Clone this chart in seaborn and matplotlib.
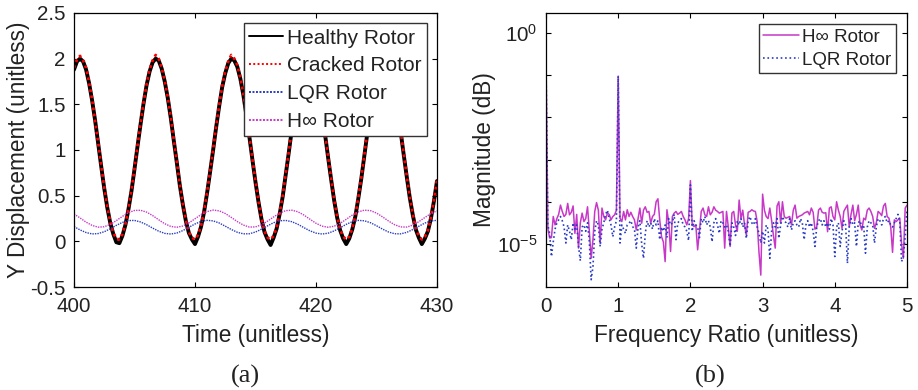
import numpy as np
import matplotlib
matplotlib.use("Agg")
import matplotlib.pyplot as plt
import matplotlib.ticker as ticker
import seaborn as sns

# ---- (a) time response ----
# fast rotor response sampled every 0.25 time units from 400 to 430
time_fine = np.linspace(400, 430, 121)
healthy = [
    1.88, 1.97, 2.00, 1.97, 1.88, 1.73, 1.54, 1.32, 1.07, 0.82,
    0.58, 0.37, 0.20, 0.08, -0.01, -0.02, 0.06, 0.18, 0.35, 0.55,
    0.79, 1.04, 1.28, 1.51, 1.71, 1.86, 1.96, 2.00, 1.98, 1.89,
    1.75, 1.57, 1.35, 1.10, 0.86, 0.61, 0.40, 0.22, 0.09, 0.02,
    -0.03, 0.05, 0.16, 0.32, 0.53, 0.76, 1.00, 1.25, 1.48, 1.69,
    1.84, 1.95, 2.00, 1.98, 1.91, 1.78, 1.60, 1.38, 1.14, 0.89,
    0.65, 0.43, 0.24, 0.10, 0.02, -0.04, 0.04, 0.14, 0.30, 0.49,
    0.73, 0.97, 1.22, 1.45, 1.66, 1.83, 1.94, 2.00, 1.99, 1.92,
    1.80, 1.62, 1.41, 1.17, 0.92, 0.68, 0.45, 0.26, 0.12, 0.03,
    -0.03, 0.03, 0.13, 0.27, 0.47, 0.69, 0.94, 1.19, 1.43, 1.64,
    1.81, 1.93, 1.99, 1.99, 1.93, 1.82, 1.65, 1.44, 1.20, 0.95,
    0.71, 0.48, 0.29, 0.13, 0.04, -0.03, 0.03, 0.11, 0.25, 0.44,
    0.66,
]
cracked = [
    1.90, 1.99, 2.03, 1.98, 1.90, 1.74, 1.55, 1.31, 1.08, 0.83,
    0.59, 0.38, 0.21, 0.09, 0.03, 0.02, 0.08, 0.19, 0.36, 0.56,
    0.80, 1.05, 1.29, 1.52, 1.72, 1.88, 1.98, 2.04, 2.00, 1.90,
    1.76, 1.58, 1.36, 1.11, 0.87, 0.62, 0.41, 0.23, 0.10, 0.04,
    0.02, 0.07, 0.17, 0.33, 0.54, 0.77, 1.01, 1.26, 1.49, 1.70,
    1.86, 1.97, 2.04, 2.00, 1.93, 1.79, 1.61, 1.39, 1.15, 0.90,
    0.66, 0.44, 0.25, 0.11, 0.04, 0.02, 0.06, 0.15, 0.31, 0.50,
    0.74, 0.98, 1.23, 1.46, 1.67, 1.84, 1.96, 2.03, 2.01, 1.93,
    1.81, 1.63, 1.42, 1.18, 0.93, 0.69, 0.46, 0.27, 0.13, 0.05,
    0.02, 0.05, 0.14, 0.28, 0.48, 0.70, 0.95, 1.20, 1.44, 1.65,
    1.82, 1.95, 2.02, 2.01, 1.94, 1.83, 1.66, 1.45, 1.21, 0.96,
    0.72, 0.49, 0.30, 0.14, 0.06, 0.02, 0.05, 0.12, 0.26, 0.45,
    0.67,
]

# controlled rotors sampled every 0.5 time units
time_coarse = np.linspace(400, 430, 61)
lqr_resp = [
    0.162, 0.125, 0.096, 0.081, 0.085, 0.105, 0.138, 0.175, 0.207, 0.227,
    0.229, 0.212, 0.182, 0.145, 0.111, 0.087, 0.080, 0.091, 0.118, 0.154,
    0.190, 0.218, 0.230, 0.224, 0.201, 0.166, 0.130, 0.099, 0.082, 0.083,
    0.102, 0.133, 0.170, 0.204, 0.225, 0.229, 0.215, 0.187, 0.150, 0.115,
    0.090, 0.080, 0.089, 0.114, 0.149, 0.186, 0.215, 0.229, 0.225, 0.204,
    0.171, 0.134, 0.102, 0.083, 0.082, 0.098, 0.129, 0.165, 0.200, 0.223,
    0.230,
]
hinf_resp = [
    0.300, 0.256, 0.210, 0.174, 0.155, 0.160, 0.185, 0.227, 0.273, 0.314,
    0.338, 0.340, 0.320, 0.282, 0.236, 0.193, 0.163, 0.154, 0.168, 0.202,
    0.247, 0.292, 0.326, 0.342, 0.334, 0.305, 0.262, 0.216, 0.178, 0.156,
    0.158, 0.181, 0.221, 0.267, 0.309, 0.336, 0.341, 0.324, 0.288, 0.242,
    0.198, 0.166, 0.154, 0.165, 0.197, 0.241, 0.287, 0.323, 0.341, 0.336,
    0.310, 0.268, 0.222, 0.182, 0.158, 0.156, 0.177, 0.215, 0.261, 0.304,
    0.333,
]

# ---- (b) spectrum, frequency ratio 0..5 every 0.025, values as log10(magnitude) ----
freq_ratio = np.linspace(0, 5, 201)
hinf_log_mag = [
    -0.64, -4.63, -4.86, -4.85, -4.35, -4.55, -4.40, -4.30, -4.08, -4.23,
    -4.35, -4.30, -4.04, -4.31, -4.25, -4.10, -4.75, -4.30, -5.10, -4.50,
    -4.27, -4.47, -4.40, -4.12, -4.70, -5.34, -4.90, -4.23, -4.02, -4.20,
    -4.98, -4.15, -4.35, -4.43, -4.27, -4.30, -4.43, -4.35, -4.31, -4.20,
    -1.02, -4.39, -4.47, -4.23, -4.43, -4.19, -4.35, -4.25, -4.35, -4.43,
    -4.67, -4.40, -4.15, -4.51, -4.20, -4.12, -4.25, -4.23, -4.51, -4.35,
    -4.30, -4.00, -3.93, -4.43, -4.83, -4.95, -5.42, -4.19, -4.50, -5.18,
    -4.35, -4.27, -4.23, -4.30, -4.27, -4.23, -4.35, -4.43, -4.55, -4.40,
    -3.50, -4.55, -4.59, -4.55, -5.14, -4.70, -4.23, -4.15, -4.31, -4.35,
    -4.12, -4.31, -4.25, -4.12, -4.20, -4.23, -4.27, -4.25, -4.23, -5.10,
    -4.23, -4.60, -5.06, -4.27, -4.23, -4.55, -4.70, -3.96, -4.40, -4.20,
    -4.55, -4.79, -4.25, -4.23, -4.19, -4.22, -4.23, -4.47, -5.20, -5.74,
    -3.82, -4.20, -4.35, -4.40, -4.15, -4.45, -4.80, -5.10, -4.10, -4.00,
    -4.51, -4.00, -4.35, -4.39, -4.37, -4.35, -4.55, -4.20, -4.08, -4.39,
    -4.35, -4.33, -4.31, -4.27, -4.25, -4.23, -4.31, -4.15, -4.25, -4.65,
    -4.60, -4.20, -4.15, -4.25, -4.27, -4.26, -4.71, -4.15, -4.12, -4.35,
    -4.43, -4.00, -4.20, -4.35, -4.63, -4.23, -4.15, -4.08, -4.59, -4.30,
    -4.08, -4.45, -4.30, -4.08, -4.55, -4.67, -4.39, -4.43, -4.20, -4.15,
    -4.23, -4.35, -4.63, -4.50, -4.23, -4.27, -4.33, -4.10, -4.04, -4.35,
    -4.39, -4.60, -5.20, -4.43, -4.47, -4.43, -4.39, -5.00, -5.34, -4.15,
    -4.08,
]
lqr_log_mag = [
    -0.83, -4.55, -4.75, -5.30, -4.95, -4.65, -4.50, -4.43, -4.35, -4.45,
    -4.60, -4.98, -4.55, -4.70, -4.90, -4.50, -4.65, -4.55, -5.05, -5.40,
    -4.60, -4.55, -4.70, -4.50, -4.95, -5.85, -5.55, -4.70, -4.45, -4.55,
    -5.06, -4.65, -4.50, -4.30, -4.20, -4.40, -4.55, -4.83, -4.60, -4.45,
    -1.02, -4.98, -4.55, -4.65, -4.75, -4.55, -4.51, -4.45, -4.59, -4.65,
    -5.10, -4.60, -4.45, -5.00, -5.34, -4.75, -4.45, -4.60, -4.50, -4.65,
    -4.40, -4.55, -4.45, -4.90, -4.60, -4.70, -4.55, -4.85, -4.40, -4.55,
    -4.50, -4.30, -4.90, -4.50, -4.45, -4.40, -4.55, -4.60, -4.70, -4.92,
    -3.60, -4.70, -4.45, -4.55, -4.60, -4.85, -4.40, -4.50, -4.35, -4.55,
    -4.45, -4.60, -4.95, -4.50, -4.40, -4.55, -4.75, -4.45, -4.50, -4.60,
    -4.55, -4.70, -5.06, -4.50, -4.60, -4.80, -4.45, -4.55, -4.40, -4.60,
    -4.50, -4.87, -4.45, -4.35, -4.50, -4.55, -4.40, -4.60, -4.75, -4.98,
    -4.70, -4.98, -4.55, -4.65, -5.34, -4.70, -4.50, -4.60, -4.40, -4.87,
    -4.55, -4.35, -4.45, -4.50, -4.60, -4.40, -4.67, -4.50, -4.45, -4.55,
    -4.60, -4.40, -4.50, -4.90, -4.55, -4.45, -4.60, -4.50, -4.70, -5.06,
    -4.60, -4.45, -4.40, -4.55, -4.45, -4.60, -4.50, -4.65, -4.40, -4.55,
    -5.30, -4.60, -4.50, -5.06, -4.70, -4.45, -4.55, -5.46, -4.60, -4.40,
    -4.55, -4.50, -5.06, -4.50, -4.45, -4.60, -4.55, -5.22, -4.60, -4.45,
    -4.50, -4.55, -4.98, -4.60, -4.40, -4.45, -4.55, -4.40, -4.35, -4.50,
    -4.45, -4.55, -4.60, -4.50, -4.40, -4.30, -4.45, -5.42, -5.30, -4.83,
    -4.20,
]

# ---- style ----
sns.set_style("ticks")
plt.rcParams.update({
    "font.family": ["Liberation Sans", "DejaVu Sans"],
    "axes.unicode_minus": False,
    "mathtext.fontset": "custom",
    "mathtext.rm": "Liberation Sans",
    "mathtext.it": "Liberation Sans:italic",
    "xtick.direction": "in",
    "ytick.direction": "in",
    "xtick.top": True,
    "ytick.right": True,
    "xtick.major.size": 3.6,
    "ytick.major.size": 3.6,
    "xtick.major.pad": 7,
    "ytick.major.pad": 6,
    "xtick.labelsize": 14.8,
    "ytick.labelsize": 14.8,
    "axes.labelsize": 16.3,
    "axes.linewidth": 0.9,
    "axes.edgecolor": "black",
    "text.color": "#222222",
    "axes.labelcolor": "#222222",
    "xtick.color": "black",
    "ytick.color": "black",
    "xtick.labelcolor": "#222222",
    "ytick.labelcolor": "#222222",
})

fig = plt.figure(figsize=(9.18, 3.9), dpi=100)
ax1 = fig.add_axes([0.0806, 0.2641, 0.3954, 0.7026])
ax2 = fig.add_axes([0.5948, 0.2641, 0.3932, 0.7026])

magenta = "#c838c8"
blue = "#2a3cc4"

# (a) time response
sns.lineplot(x=time_fine, y=healthy, color="black", linewidth=2.8,
             label="Healthy Rotor", ax=ax1)
sns.lineplot(x=time_fine, y=cracked, color="red", linewidth=2.0,
             linestyle=(0, (1, 1.2)), label="Cracked Rotor", ax=ax1)
sns.lineplot(x=time_coarse, y=lqr_resp, color=blue, linewidth=1.0,
             linestyle=(0, (1, 0.8)), label="LQR Rotor", ax=ax1)
sns.lineplot(x=time_coarse, y=hinf_resp, color=magenta, linewidth=1.0,
             linestyle=(0, (1, 0.8)), label="H\u221e Rotor", ax=ax1)

ax1.set_xlim(400, 430)
ax1.set_ylim(-0.5, 2.5)
ax1.set_xticks([400, 410, 420, 430])
ax1.set_yticks(np.arange(-0.5, 2.51, 0.5))
ax1.yaxis.set_major_formatter(ticker.FuncFormatter(lambda v, p: f"{v:g}"))
ax1.set_xlabel("Time (unitless)", labelpad=6)
ax1.set_ylabel("Y Displacement (unitless)", labelpad=0)
leg1 = ax1.legend(loc="upper right", fontsize=15, handlelength=1.6,
                  handletextpad=0.2, borderpad=0.25, labelspacing=0.42,
                  fancybox=False, framealpha=1, edgecolor="#333333",
                  borderaxespad=0.5)
leg1.get_frame().set_linewidth(1.0)
for line in leg1.get_lines():
    line.set_linewidth(1.4)

# (b) spectrum
sns.lineplot(x=freq_ratio, y=10 ** np.array(hinf_log_mag), color=magenta,
             linewidth=1.1, label="H\u221e Rotor", ax=ax2)
sns.lineplot(x=freq_ratio, y=10 ** np.array(lqr_log_mag), color=blue,
             linewidth=1.2, linestyle=":", label="LQR Rotor", ax=ax2)

ax2.set_yscale("log")
ax2.set_xlim(0, 5)
ax2.set_ylim(9.5e-7, 3)
ax2.set_xticks([0, 1, 2, 3, 4, 5])
ax2.yaxis.set_major_locator(ticker.FixedLocator([10.0 ** k for k in range(-5, 1)]))
ax2.yaxis.set_minor_locator(ticker.NullLocator())
ax2.yaxis.set_major_formatter(ticker.FuncFormatter(
    lambda v, p: {1.0: r"$10^{0}$", 1e-5: r"$10^{-5}$"}.get(float(f"{v:.0e}"), "")))
ax2.set_xlabel("Frequency Ratio (unitless)", labelpad=6)
ax2.set_ylabel("Magnitude (dB)", labelpad=1)
leg2 = ax2.legend(loc="upper right", fontsize=13.5, handlelength=1.9,
                  handletextpad=0.15, borderpad=0.25, labelspacing=0.3,
                  fancybox=False, framealpha=1, edgecolor="#333333",
                  borderaxespad=0.6)
leg2.get_frame().set_linewidth(1.0)

fig.text(245 / 918, 1 - 376 / 390, "(a)", family="Liberation Serif",
         fontsize=19, ha="center", va="center", color="#222222")
fig.text(710 / 918, 1 - 376 / 390, "(b)", family="Liberation Serif",
         fontsize=19, ha="center", va="center", color="#222222")

fig.savefig("out.png", dpi=100)
